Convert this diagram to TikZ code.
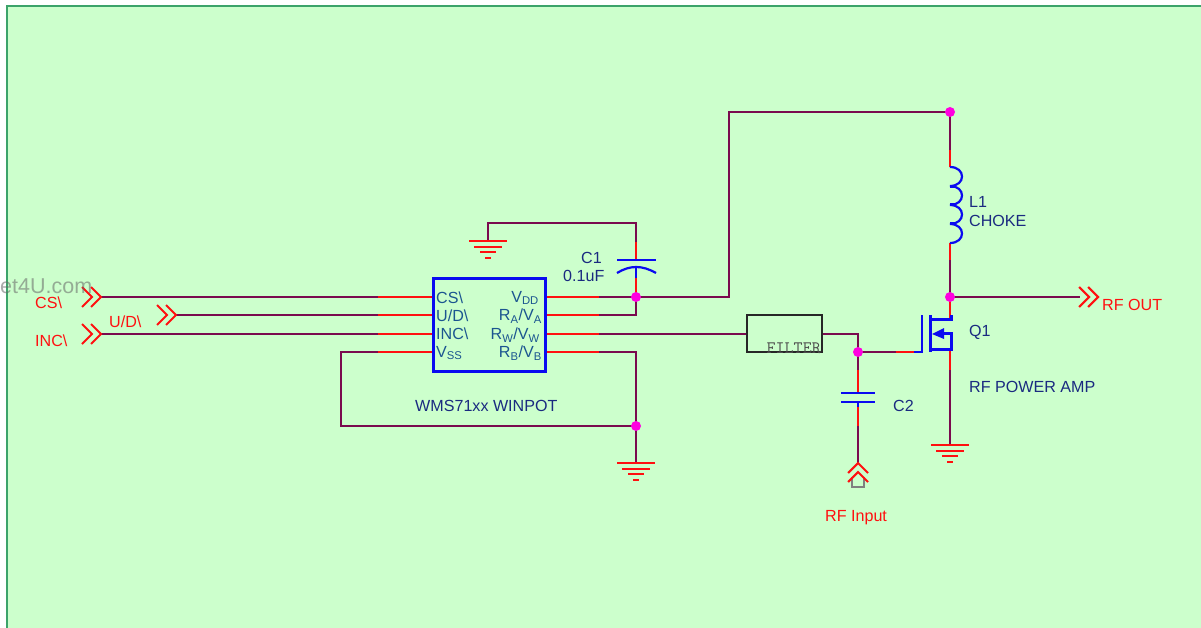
\documentclass[tikz,border=0pt]{standalone}
\usepackage{fontspec}
\setmainfont{Liberation Sans}
\pgfdeclarelayer{paper}
\pgfdeclarelayer{wiring}
\pgfsetlayers{paper,wiring,main}
\definecolor{bgreen}{HTML}{CCFFCC}
\definecolor{frameg}{HTML}{3CA36A}
\definecolor{wirec}{HTML}{7A0A4E}
\definecolor{pinred}{HTML}{FF1010}
\definecolor{partb}{HTML}{0A0AF0}
\definecolor{navy}{HTML}{1A2A80}
\definecolor{chipt}{HTML}{1B5590}
\definecolor{dotc}{HTML}{FF00E0}
\tikzset{
  x=1pt,y=-1pt,
  wire/.style={draw=wirec,line width=2.1pt},
  pinw/.style={draw=pinred,line width=2.1pt},
  partw/.style={draw=partb,line width=2.2pt},
  junction/.style={circle,fill=dotc,inner sep=0pt,minimum size=10pt},
  lab/.style={font=\fontsize{16.1}{18}\selectfont,inner sep=0pt},
  redlab/.style={lab,text=pinred},
  navylab/.style={lab,text=navy,anchor=west},
  chipl/.style={lab,text=chipt,anchor=west},
  chipr/.style={lab,text=chipt,anchor=east},
  chevronmark/.pic={\draw[draw=pinred,line width=2.1pt] (-19,-10)--(-9,0)--(-19,10) (-10,-10)--(0,0)--(-10,10);},
  groundmark/.pic={\draw[draw=pinred,line width=2pt] (-19,0)--(19,0) (-14,6)--(14,6) (-8,11)--(8,11) (-3,17)--(3,17);}
}
\begin{document}
\begin{tikzpicture}
\useasboundingbox (0,0) rectangle (1201,628);
\begin{pgfonlayer}{paper}
\fill[white] (0,0) rectangle (1201,628);
\path[fill=bgreen] (7,6) rectangle (1201,628);
\draw[frameg,line width=2pt] (7,628)--(7,6)--(1201,6);
\end{pgfonlayer}

% coordinates
\coordinate (csA) at (101,297); \coordinate (csB) at (378,297); \coordinate (csC) at (433,297);
\coordinate (udA) at (176,315); \coordinate (udB) at (378,315); \coordinate (udC) at (433,315);
\coordinate (incA) at (101,334); \coordinate (incB) at (378,334); \coordinate (incC) at (433,334);
\coordinate (vssB) at (378,352); \coordinate (vssC) at (433,352); \coordinate (vssL) at (341,352);
\coordinate (loopL) at (341,426);
\coordinate (vddA) at (545,297); \coordinate (vddB) at (599,297);
\coordinate (raA) at (545,315); \coordinate (raB) at (599,315); \coordinate (raC) at (636,315);
\coordinate (rwA) at (545,334); \coordinate (rwB) at (599,334);
\coordinate (rbA) at (545,352); \coordinate (rbB) at (599,352); \coordinate (rbC) at (636,352);
\coordinate (upL) at (729,297); \coordinate (upT) at (729,112);
\coordinate (c1a) at (636,278); \coordinate (c1b) at (636,267); \coordinate (c1c) at (636,260);
\coordinate (c1d) at (636,242); \coordinate (c1e) at (636,223); \coordinate (gndTL) at (488,223);
\coordinate (gndA) at (488,241); \coordinate (gndB) at (636,463);
\coordinate (lTopR) at (950,150); \coordinate (lTop) at (950,167); \coordinate (lBot) at (950,243); \coordinate (lBotR) at (950,260);
\coordinate (rfOutEnd) at (1098,297); \coordinate (rfOutW) at (1080,297);
\coordinate (fR) at (858,334);
\coordinate (gA) at (896,352); \coordinate (gB) at (914,352); \coordinate (gC) at (922,352);
\coordinate (dr) at (950,319); \coordinate (so) at (950,349); \coordinate (soR) at (950,370); \coordinate (gndC) at (950,445);
\coordinate (c2a) at (858,370); \coordinate (c2b) at (858,393); \coordinate (c2c) at (858,402); \coordinate (c2d) at (858,407);
\coordinate (c2e) at (858,426); \coordinate (c2f) at (858,463);

% chip and filter
\node[draw=partb,line width=3pt,fill=bgreen,minimum width=112pt,minimum height=93pt,inner sep=0pt] (chip) at (489,324.5) {};
\node[draw=black!85,line width=2.3pt,fill=bgreen,minimum width=75pt,minimum height=37pt,inner sep=0pt] (filter) at (784.5,333.5) {};
\node[anchor=base west,inner sep=0pt,text=black!70,font=\ttfamily\fontsize{17.5}{18}\selectfont] (ftext) at (766.5,353) {FILTER};

% junctions
\node[junction] (jVdd) at (636,297) {};
\node[junction] (jGnd) at (636,426) {};
\node[junction] (jTop) at (950,112) {};
\node[junction] (jOut) at (950,297) {};
\node[junction] (jGate) at (858,352) {};

\begin{pgfonlayer}{wiring}
% wires
\draw[wire] (csA)--(csB);
\draw[wire] (udA)--(udB);
\draw[wire] (incA)--(incB);
\draw[wire] (vssB)--(vssL)--(loopL)--(jGnd.center);
\draw[wire] (vddB)--(jVdd.center)--(upL)--(upT)--(jTop.center);
\draw[wire] (raB)--(raC)--(jVdd.center);
\draw[wire] (rwB)--(filter.west|-rwB);
\draw[wire] (rbB)--(rbC)--(jGnd.center)--(gndB);
\draw[wire] (c1d)--(c1e)--(gndTL)--(gndA);
\draw[wire] (jTop.center)--(lTopR);
\draw[wire] (lBotR)--(jOut.center)--(rfOutW);
\draw[wire] (filter.east|-fR)--(fR)--(jGate.center)--(c2a);
\draw[wire] (jGate.center)--(gA);
\draw[wire] (soR)--(gndC);
\draw[wire] (c2e)--(c2f);
% red pin stubs
\draw[pinw] (csB)--(csC);
\draw[pinw] (udB)--(udC);
\draw[pinw] (incB)--(incC);
\draw[pinw] (vssB)--(vssC);
\draw[pinw] (vddA)--(vddB);
\draw[pinw] (raA)--(raB);
\draw[pinw] (rwA)--(rwB);
\draw[pinw] (rbA)--(rbB);
\draw[pinw] (jVdd.center)--(c1a);
\draw[pinw] (c1c)--(c1d);
\draw[pinw] (lTopR)--(lTop);
\draw[pinw] (lBot)--(lBotR);
\draw[pinw] (jOut.center)--(dr);
\draw[pinw] (gA)--(gB);
\draw[pinw] (so)--(soR);
\draw[pinw] (c2a)--(c2b);
\draw[pinw] (c2d)--(c2e);
\end{pgfonlayer}

% C1
\draw[partw] (617,260)--(656,260);
\draw[partw] (617,273) .. controls (630,265) and (642,265) .. (656,273);
\draw[partw] (c1a)--(c1b);
% C2
\draw[partw] (841,393)--(875,393);
\draw[partw] (841,402)--(875,402);
\draw[partw] (c2c)--(c2d);
% L1
\draw[partw] (lTop) .. controls (966,167) and (966,186) .. (950,186)
  .. controls (966,186) and (966,205) .. (950,205)
  .. controls (966,205) and (966,224) .. (950,224)
  .. controls (966,224) and (966,243) .. (950,243);
\draw[draw=partb,line width=3pt] (950,187)--(955,187) (950,205)--(955,205) (950,224)--(955,224);
% Q1
\draw[partw] (gB)--(gC)--(922,315);
\draw[draw=partb,line width=3pt] (930,315)--(930,352);
\draw[draw=partb,line width=3pt] (930,319)--(951,319)--(951,315);
\draw[draw=partb,line width=3pt] (930,349)--(951,349)--(951,333)--(942,333);
\fill[partb] (932,334)--(944,328)--(944,339)--cycle;

% signal marks
\pic at (csA) {chevronmark};
\pic at (udA) {chevronmark};
\pic at (incA) {chevronmark};
\pic at (rfOutEnd) {chevronmark};
\pic at (gndA) {groundmark};
\pic at (gndB) {groundmark};
\pic at (gndC) {groundmark};
\draw[draw=gray,line width=2pt] (852,477)--(852,487)--(864,487)--(864,477);
\draw[draw=pinred,line width=2.1pt] (848,473)--(c2f)--(868,473) (848,482)--(858,472)--(868,482);

% texts
\node[lab,text=black!60,opacity=.55,font=\fontsize{21.5}{23}\selectfont,anchor=west] (wm) at (0,286.5) {et4U.com};
\node[redlab,anchor=west] (tCS) at (35,303) {CS\textbackslash};
\node[redlab,anchor=west] (tUD) at (109,322) {U/D\textbackslash};
\node[redlab,anchor=west] (tINC) at (35,340.5) {INC\textbackslash};
\node[redlab,anchor=west] (tOut) at (1102,305) {RF OUT};
\node[redlab,anchor=base west] (tIn) at (825,521.5) {RF Input};
\node[chipl] (pCS) at (436,298) {CS\textbackslash};
\node[chipl] (pUD) at (436,316) {U/D\textbackslash};
\node[chipl] (pINC) at (436,334) {INC\textbackslash};
\node[chipl] (pVSS) at (436,353) {V\textsubscript{SS}};
\node[chipr] (pVDD) at (539,298) {V\textsubscript{DD}};
\node[chipr] (pRA) at (542,316) {R\textsubscript{A}/V\textsubscript{A}};
\node[chipr] (pRW) at (540,335) {R\textsubscript{W}/V\textsubscript{W}};
\node[chipr] (pRB) at (542,353) {R\textsubscript{B}/V\textsubscript{B}};
\node[navylab] (tWMS) at (415,406) {WMS71xx WINPOT};
\node[navylab] (tC1) at (581,258) {C1};
\node[navylab] (tC1v) at (563,276) {0.1uF};
\node[navylab] (tC2) at (893,405.5) {C2};
\node[navylab] (tQ1) at (969,332) {Q1};
\node[navylab] (tPA) at (969,386.5) {RF POWER AMP};
\node[navylab] (tL1) at (969,202) {L1};
\node[navylab] (tCh) at (969,221) {CHOKE};
\end{tikzpicture}
\end{document}
